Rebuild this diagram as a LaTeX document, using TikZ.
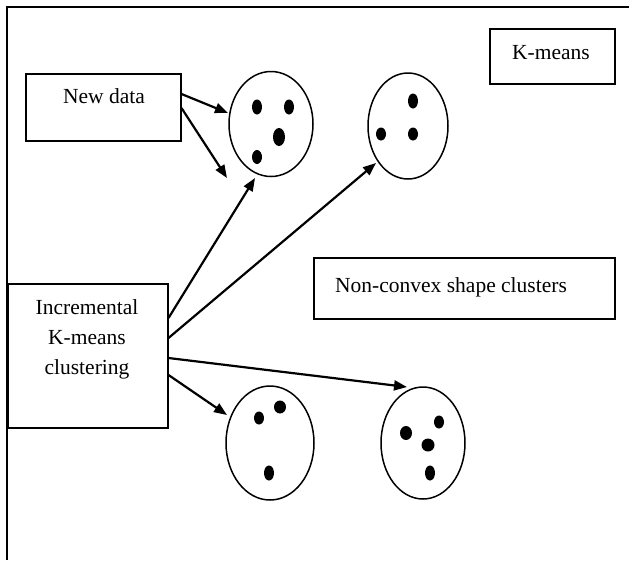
\documentclass[tikz,border=0pt]{standalone}
\usepackage{fontspec}
\setmainfont{Liberation Serif}
\usetikzlibrary{arrows.meta,shapes.geometric,calc}
\begin{document}
\begin{tikzpicture}[x=1pt,y=-1pt,
  box/.style={draw,line width=1.5pt,rectangle,inner sep=0pt,anchor=north west},
  cluster/.style={draw,line width=1.5pt,ellipse,inner sep=0pt},
  lbl/.style={font=\fontsize{21.5}{30}\selectfont,inner sep=0pt},
  conn/.style={line width=2.2pt,-{Triangle[length=13pt,width=10pt]}},
  dot/.style={fill=black}]
\useasboundingbox (0,0) rectangle (629,560);
% outer frame (top and left edges)
\draw[line width=1.5pt] (7,560) -- (7,7) -- (629,7);

% boxes
\node[box,minimum width=155pt,minimum height=67pt] (nd) at (25,73) {};
\node[box,minimum width=125pt,minimum height=55pt] (km) at (489,28) {};
\node[box,minimum width=160pt,minimum height=144pt] (inc) at (7,283) {};
\node[box,minimum width=301pt,minimum height=61pt] (nc) at (313,257) {};

% box texts
\node[lbl,anchor=base] (ndtext) at (104,103) {New data};
\node[lbl,anchor=base] (kmtext) at (551,59) {K-means};
\node[lbl,anchor=base west] (nctext) at (335,292) {Non-convex shape clusters};
\node[lbl,anchor=north,align=center] (inctext) at (87,299) {Incremental\\K-means\\clustering};

% clusters
\node[cluster,minimum width=84pt,minimum height=105pt] (c1) at (271,124) {};
\node[cluster,minimum width=80pt,minimum height=106pt] (c2) at (408,126) {};
\node[cluster,minimum width=88pt,minimum height=114pt] (c3) at (270,443) {};
\node[cluster,minimum width=84pt,minimum height=112pt] (c4) at (423,443) {};

% points inside the clusters
\fill[dot] (257,107) ellipse [x radius=5pt, y radius=7.5pt];
\fill[dot] (289,107) ellipse [x radius=5pt, y radius=7.5pt];
\fill[dot] (279,137) ellipse [x radius=6pt, y radius=9pt];
\fill[dot] (257,157) ellipse [x radius=5pt, y radius=7pt];

\fill[dot] (413,101) ellipse [x radius=5pt, y radius=7.5pt];
\fill[dot] (381,134) ellipse [x radius=5pt, y radius=6.5pt];
\fill[dot] (413,134) ellipse [x radius=5pt, y radius=6.5pt];

\fill[dot] (259,418) ellipse [x radius=5pt, y radius=6.5pt];
\fill[dot] (280,407) ellipse [x radius=6pt, y radius=6.5pt];
\fill[dot] (269,473) ellipse [x radius=5pt, y radius=7.5pt];

\fill[dot] (406,433) ellipse [x radius=6pt, y radius=7pt];
\fill[dot] (439,422) ellipse [x radius=5pt, y radius=6.5pt];
\fill[dot] (428,445) ellipse [x radius=6.5pt, y radius=6.5pt];
\fill[dot] (430,473) ellipse [x radius=5pt, y radius=7.5pt];

% arrow tips
\coordinate (t1) at (228,113);
\coordinate (t2) at (227,178);
\coordinate (t3) at (255,178);
\coordinate (t4) at (376,163);
\coordinate (t5) at (407,387);
\coordinate (t6) at (227,415);

% connectors
\draw[conn] ($(nd.north east)+(0,21)$) -- (t1);
\draw[conn] ($(nd.north east)+(0,35)$) -- (t2);
\draw[conn] ($(inc.north east)+(0,35)$) -- (t3);
\draw[conn] ($(inc.north east)+(0,55)$) -- (t4);
\draw[conn] ($(inc.north east)+(0,75)$) -- (t5);
\draw[conn] ($(inc.north east)+(0,92)$) -- (t6);
\end{tikzpicture}
\end{document}
